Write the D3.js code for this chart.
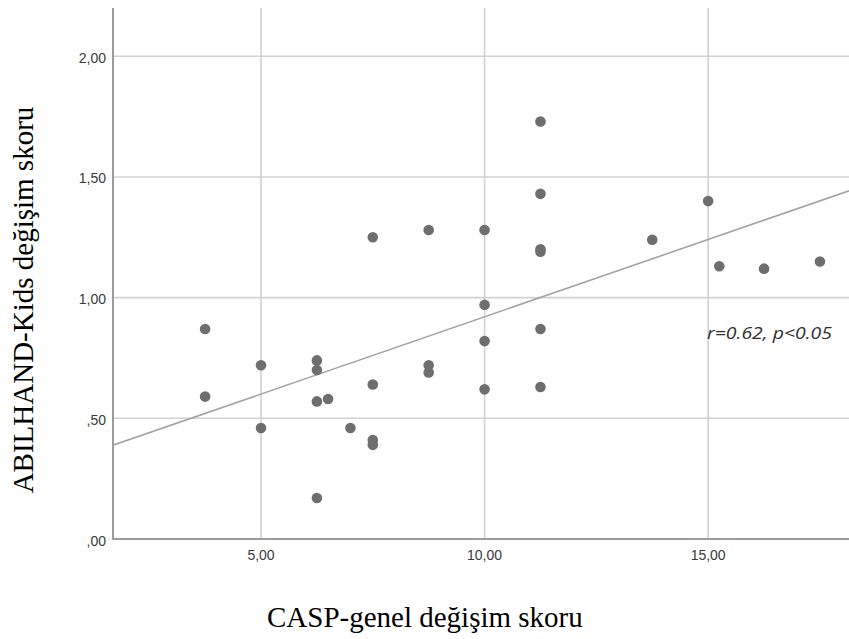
<!DOCTYPE html>
<html lang="tr">
<head>
  <meta charset="UTF-8" />
  <title>CASP - ABILHAND-Kids</title>
  <script src="https://cdn.jsdelivr.net/npm/d3@7/dist/d3.min.js"></script>
  <style>
    body { margin: 0; background: #fff; }
    #chart { width: 849px; height: 639px; }
    .tick-label { font-family: "Liberation Sans", Arial, sans-serif; font-size: 14px; fill: #3a3a3a; }
    .axis-title { font-family: "Liberation Serif", "Times New Roman", serif; font-size: 29px; fill: #000; }
  </style>
</head>
<body>
  <div id="chart"></div>
  <script>
    // CASP-genel değişim skoru (x) / ABILHAND-Kids değişim skoru (y)
    const caspScores = [3.75, 3.75, 5, 5, 6.25, 6.25, 6.25, 6.25, 6.5, 7,
      7.5, 7.5, 7.5, 7.5, 8.75, 8.75, 8.75, 10, 10, 10, 10,
      11.25, 11.25, 11.25, 11.25, 11.25, 11.25, 13.75, 15, 15.25, 16.25, 17.5];
    const abilhandScores = [0.87, 0.59, 0.72, 0.46, 0.74, 0.70, 0.57, 0.17, 0.58, 0.46,
      1.25, 0.64, 0.41, 0.39, 1.28, 0.72, 0.69, 1.28, 0.97, 0.82, 0.62,
      1.73, 1.43, 1.20, 1.19, 0.87, 0.63, 1.24, 1.40, 1.13, 1.12, 1.15];
    const xTicks = [5, 10, 15];
    const yTicks = [0, 0.5, 1.0, 1.5, 2.0];
    const xDomain = [1.69, 18.15];
    const yDomain = [0, 2.2];
    const statsText = "r=0.62, p<0.05";

    const width = 849, height = 639;
    const plotL = 113, plotR = 849, plotT = 8, plotB = 539;

    const svg = d3.select("#chart").append("svg")
      .attr("width", width).attr("height", height);

    const x = d3.scaleLinear().domain(xDomain).range([plotL, plotR]);
    const y = d3.scaleLinear().domain(yDomain).range([plotB, plotT]);

    // tr-TR style numbers: 1,50 / ,50
    const fmt = v => {
      const s = v.toFixed(2).replace(".", ",");
      return s.startsWith("0,") ? s.slice(1) : s;
    };

    // grid
    svg.append("g").selectAll("line").data(xTicks).enter().append("line")
      .attr("x1", d => x(d)).attr("x2", d => x(d))
      .attr("y1", plotT).attr("y2", plotB)
      .attr("stroke", "#d2d2d2").attr("stroke-width", 1.6);
    svg.append("g").selectAll("line").data(yTicks.filter(d => d > 0)).enter().append("line")
      .attr("x1", plotL).attr("x2", plotR)
      .attr("y1", d => y(d)).attr("y2", d => y(d))
      .attr("stroke", "#d2d2d2").attr("stroke-width", 1.6);

    // axis lines
    svg.append("line").attr("x1", plotL).attr("x2", plotL).attr("y1", plotT).attr("y2", plotB + 1)
      .attr("stroke", "#9c9c9c").attr("stroke-width", 2);
    svg.append("line").attr("x1", plotL - 1).attr("x2", plotR).attr("y1", plotB).attr("y2", plotB)
      .attr("stroke", "#9c9c9c").attr("stroke-width", 2);

    // tick labels
    svg.append("g").selectAll("text").data(yTicks).enter().append("text")
      .attr("class", "tick-label")
      .attr("x", plotL - 7).attr("y", d => y(d) + 6.5)
      .attr("text-anchor", "end")
      .text(fmt);
    svg.append("g").selectAll("text").data(xTicks).enter().append("text")
      .attr("class", "tick-label")
      .attr("x", d => x(d)).attr("y", 560)
      .attr("text-anchor", "middle")
      .text(fmt);

    // clip for plot area
    svg.append("clipPath").attr("id", "plot-clip").append("rect")
      .attr("x", plotL).attr("y", plotT).attr("width", plotR - plotL).attr("height", plotB - plotT);

    // least-squares fit line
    const mx = d3.mean(caspScores), my = d3.mean(abilhandScores);
    const sxy = d3.sum(caspScores, (v, i) => (v - mx) * (abilhandScores[i] - my));
    const sxx = d3.sum(caspScores, v => (v - mx) * (v - mx));
    const slope = sxy / sxx;
    const intercept = my - slope * mx;
    svg.append("line")
      .attr("clip-path", "url(#plot-clip)")
      .attr("x1", x(xDomain[0])).attr("y1", y(intercept + slope * xDomain[0]))
      .attr("x2", x(xDomain[1])).attr("y2", y(intercept + slope * xDomain[1]))
      .attr("stroke", "#a3a3a3").attr("stroke-width", 1.6);

    // points
    svg.append("g").selectAll("circle").data(caspScores).enter().append("circle")
      .attr("cx", d => x(d))
      .attr("cy", (d, i) => y(abilhandScores[i]))
      .attr("r", 5.3)
      .attr("fill", "#6e6e6e");

    // r / p annotation
    svg.append("text")
      .attr("x", 707).attr("y", 339)
      .attr("font-family", "'Open Sans', 'DejaVu Sans', sans-serif")
      .attr("font-style", "italic")
      .attr("font-size", 16)
      .attr("textLength", 125)
      .attr("lengthAdjust", "spacingAndGlyphs")
      .attr("fill", "#2e2e2e")
      .text(statsText);

    // axis titles
    svg.append("text")
      .attr("class", "axis-title")
      .attr("transform", "translate(33,300) rotate(-90)")
      .attr("text-anchor", "middle")
      .text("ABILHAND-Kids değişim skoru");
    svg.append("text")
      .attr("class", "axis-title")
      .attr("x", 267).attr("y", 627)
      .text("CASP-genel değişim skoru");
  </script>
</body>
</html>
